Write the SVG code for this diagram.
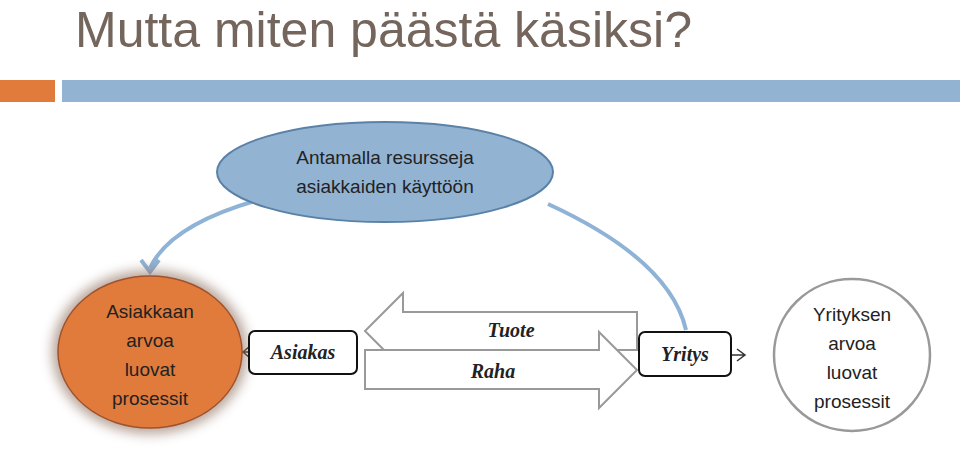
<svg xmlns="http://www.w3.org/2000/svg" width="960" height="450" viewBox="0 0 960 450">
<style>
.t{font-family:"Liberation Sans",Arial,sans-serif;fill:#222}
.s{font-family:"Liberation Serif",serif;font-style:italic;font-weight:bold;font-size:20px;fill:#222}
.box{fill:#fff;stroke:#111;stroke-width:2}
.big{fill:#fff;stroke:#999;stroke-width:2.5}
.con{fill:none;stroke:#8fb3d6;stroke-width:4}
</style>
<defs>
<filter id="glow" x="-30%" y="-30%" width="160%" height="160%"><feGaussianBlur stdDeviation="6"/></filter>
</defs>
<rect width="960" height="450" fill="#fff"/>
<text x="75" y="47" font-family="Liberation Sans,Arial,sans-serif" font-size="50" fill="#74665c">Mutta miten päästä käsiksi?</text>
<rect x="0" y="80" width="55" height="22" fill="#e07b3c"/>
<rect x="62" y="80" width="898" height="22" fill="#93b3d3"/>

<g id="connectors">
<path class="con" d="M258,200 Q170,225 150,268"/>
<path d="M141,260 L150,272 L159,260" fill="none" stroke="#8fb3d6" stroke-width="4"/>
<path class="con" d="M548,204 Q670,260 686,330"/>
<path d="M250,346 L243,352 L250,358 M243,352 L249,352" fill="none" stroke="#333" stroke-width="1.5"/>
<path d="M737,349 L745,355 L737,361 M731,355 L745,355" fill="none" stroke="#333" stroke-width="1.5"/>
</g>

<g id="resources">
<ellipse cx="385" cy="172" rx="168" ry="50" fill="#93b3d3" stroke="#5a82a8" stroke-width="2"/>
<text class="t" font-size="19" text-anchor="middle"><tspan x="385" y="164">Antamalla resursseja</tspan><tspan x="385" y="193">asiakkaiden käyttöön</tspan></text>
</g>

<g id="asiakkaan">
<ellipse cx="150" cy="352" rx="98" ry="82" fill="#8a6a58" opacity="0.6" filter="url(#glow)"/>
<ellipse cx="150" cy="352" rx="92" ry="76" fill="#e07b3c" stroke="#a0522d" stroke-width="1.5"/>
<text class="t" font-size="19" text-anchor="middle"><tspan x="150" y="318">Asiakkaan</tspan><tspan x="150" y="347">arvoa</tspan><tspan x="150" y="376">luovat</tspan><tspan x="150" y="405">prosessit</tspan></text>
</g>

<g id="tuote">
<path d="M637,312 L403,312 L403,293 L365,331 L403,369 L403,350 L637,350 Z" fill="#fff" stroke="#999" stroke-width="2"/>
<text class="s" x="511" y="337" text-anchor="middle">Tuote</text>
</g>
<g id="raha">
<path d="M365,350 L599,350 L599,332 L637,370 L599,408 L599,389 L365,389 Z" fill="#fff" stroke="#999" stroke-width="2"/>
<text class="s" x="493" y="378" text-anchor="middle">Raha</text>
</g>

<g id="asiakas">
<rect class="box" x="249" y="331" width="108" height="43" rx="6"/>
<text class="s" x="303" y="359" text-anchor="middle">Asiakas</text>
</g>
<g id="yritys">
<rect class="box" x="639" y="332" width="92" height="44" rx="6"/>
<text class="s" x="685" y="361" text-anchor="middle">Yritys</text>
</g>

<g id="yrityksen">
<ellipse class="big" cx="852" cy="355" rx="78" ry="76"/>
<text class="t" font-size="19" text-anchor="middle"><tspan x="852" y="321">Yrityksen</tspan><tspan x="852" y="350">arvoa</tspan><tspan x="852" y="379">luovat</tspan><tspan x="852" y="408">prosessit</tspan></text>
</g>
</svg>
